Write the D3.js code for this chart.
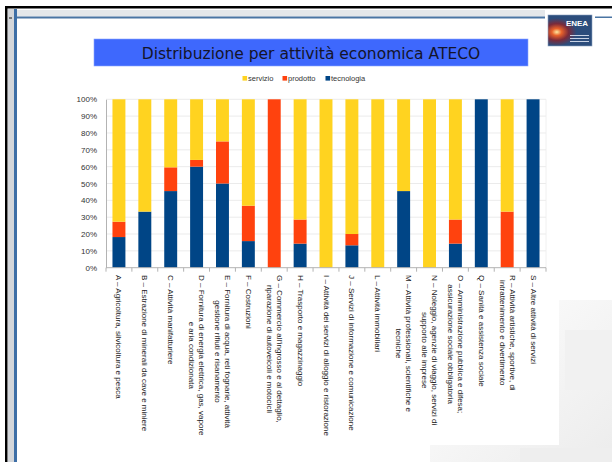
<!doctype html>
<html lang="it">
<head>
<meta charset="utf-8">
<title>Distribuzione per attività economica ATECO</title>
<script src="https://d3js.org/d3.v7.min.js"></script>
<style>
  body { margin: 0; background: #fff; }
  svg { display: block; }
  .tick-lbl { font-family: "Liberation Sans", Arial, sans-serif; font-size: 8px; fill: #333; }
  .cat-lbl { font-family: "Liberation Sans", Arial, sans-serif; font-size: 8px; fill: #222; }
  .leg-lbl { font-family: "Liberation Sans", Arial, sans-serif; font-size: 7.5px; fill: #333; }
</style>
</head>
<body>
<script>
// categories (ATECO sections) and their label lines
var categories = ["A","B","C","D","E","F","G","H","I","J","L","M","N","O","Q","R","S"];
var labels = [
  ["A – Agricoltura, silvicoltura e pesca"],
  ["B – Estrazione di minerali da cave e miniere"],
  ["C – Attività manifatturiere"],
  ["D – Fornitura di energia elettrica, gas, vapore", "e aria condizionata"],
  ["E – Fornitura di acqua, reti fognarie, attività", "gestione rifiuti e risanamento"],
  ["F – Costruzioni"],
  ["G – Commercio all'ingrosso e al dettaglio,", "riparazione di autoveicoli e motocicli"],
  ["H – Trasporto e magazzinaggio"],
  ["I – Attività dei servizi di alloggio e ristorazione"],
  ["J – Servizi di informazione e comunicazione"],
  ["L – Attività immobiliari"],
  ["M – Attività professionali, scientifiche e", "tecniche"],
  ["N – Noleggio, agenzie di viaggio, servizi di", "supporto alle imprese"],
  ["O – Amministrazione pubblica e difesa;", "assicurazione sociale obbligatoria"],
  ["Q – Sanità e assistenza sociale"],
  ["R – Attività artistiche, sportive, di", "intrattenimento e divertimento"],
  ["S – Altre attività di servizi"]
];
// percentages
var tecnologia = [18.2, 33.3, 45.5, 60, 50, 15.8, 0, 14.3, 0, 13.3, 0, 45.5, 0, 14.3, 100, 0, 100];
var prodotto   = [9.1, 0, 14.1, 4, 25, 21, 100, 14.3, 0, 6.7, 0, 0, 0, 14.3, 0, 33.3, 0];
var servizio   = [72.7, 66.7, 40.4, 36, 25, 63.2, 0, 71.4, 100, 80, 100, 54.5, 100, 71.4, 0, 66.7, 0];
var seriesNames = ["servizio", "prodotto", "tecnologia"];
var seriesColors = {servizio: "#ffd320", prodotto: "#ff420e", tecnologia: "#004586"};
var yTicks = [0, 10, 20, 30, 40, 50, 60, 70, 80, 90, 100];

var W = 612, H = 462;
var svg = d3.select("body").append("svg").attr("width", W).attr("height", H);

// slide background decoration (lower right)
var defs = svg.append("defs");
var gd = defs.append("linearGradient").attr("id", "deco").attr("x1", 0).attr("y1", 0).attr("x2", 1).attr("y2", 1);
gd.append("stop").attr("offset", "0%").attr("stop-color", "#ffffff");
gd.append("stop").attr("offset", "100%").attr("stop-color", "#ececec");
svg.append("rect").attr("x", 430).attr("y", 300).attr("width", 182).attr("height", 162).attr("fill", "url(#deco)");
svg.append("rect").attr("x", 565).attr("y", 330).attr("width", 47).attr("height", 60).attr("fill", "#f1f1f1");
svg.append("rect").attr("x", 520).attr("y", 448).attr("width", 92).attr("height", 14).attr("fill", "#eeeeee");
// white panel of the chart
svg.append("rect").attr("x", 17).attr("y", 19).attr("width", 542).attr("height", 426).attr("fill", "#fff");

// slide frame
svg.append("rect").attr("x", 5).attr("y", 6).attr("width", 607).attr("height", 2.5).attr("fill", "#000");
svg.append("rect").attr("x", 5).attr("y", 6).attr("width", 2.5).attr("height", 456).attr("fill", "#000");
svg.append("rect").attr("x", 8).attr("y", 9).attr("width", 6).attr("height", 453).attr("fill", "#d3d6da");
svg.append("rect").attr("x", 14).attr("y", 9).attr("width", 3).attr("height", 453).attr("fill", "#3d6ea6");
svg.append("rect").attr("x", 17).attr("y", 10).attr("width", 528).attr("height", 6.5).attr("fill", "#e4e7ea");
svg.append("rect").attr("x", 17).attr("y", 16.5).attr("width", 528).attr("height", 2).attr("fill", "#4a75a3");
svg.append("rect").attr("x", 595).attr("y", 16.5).attr("width", 17).attr("height", 1.5).attr("fill", "#4a75a3");
svg.append("rect").attr("x", 9).attr("y", 17).attr("width", 3).attr("height", 2).attr("fill", "#777");

// ENEA logo
var gl = defs.append("radialGradient").attr("id", "glow").attr("cx", "20%").attr("cy", "55%").attr("r", "45%");
gl.append("stop").attr("offset", "0%").attr("stop-color", "#ffe9a0");
gl.append("stop").attr("offset", "25%").attr("stop-color", "#e8612a");
gl.append("stop").attr("offset", "60%").attr("stop-color", "#7a2a3a");
gl.append("stop").attr("offset", "100%").attr("stop-color", "#2c4d7c");
var logo = svg.append("g").attr("transform", "translate(548,15)");
logo.append("rect").attr("width", 44).attr("height", 31).attr("fill", "url(#glow)").attr("stroke", "#8aa0c0").attr("stroke-width", 0.6);
logo.append("text").attr("x", 29).attr("y", 11).attr("text-anchor", "middle")
  .style("font-family", "Liberation Sans, Arial, sans-serif").style("font-weight", "bold")
  .style("font-size", "8px").style("fill", "#fff").text("ENEA");
[20, 23, 26].forEach(function(y) {
  logo.append("rect").attr("x", 22).attr("y", y).attr("width", 19).attr("height", 1).attr("fill", "#c8d2e4");
});

// title box
svg.append("rect").attr("x", 94).attr("y", 39).attr("width", 434).attr("height", 27)
  .attr("fill", "#3e68fd").attr("stroke", "#8aa4ff").attr("stroke-width", 0.6);
svg.append("text").attr("x", 311).attr("y", 58.5).attr("text-anchor", "middle")
  .style("font-family", "DejaVu Sans, sans-serif").style("font-size", "15.5px").style("fill", "#14142a")
  .text("Distribuzione per attività economica ATECO");

// legend
var legX = [242.5, 282.5, 325.5];
var leg = svg.append("g");
seriesNames.forEach(function(s, i) {
  leg.append("rect").attr("x", legX[i]).attr("y", 76).attr("width", 4.6).attr("height", 4.6).attr("fill", seriesColors[s]);
  leg.append("text").attr("class", "leg-lbl").attr("x", legX[i] + 5.5).attr("y", 81).text(s);
});

// plot
var x0 = 106, x1 = 546, yTop = 99.3, yBot = 267.7;
var x = d3.scaleBand().domain(categories).range([x0, x1]).paddingInner(0.5).paddingOuter(0.25);
var y = d3.scaleLinear().domain([0, 100]).range([yBot, yTop]);

var grid = svg.append("g");
grid.selectAll("line").data(yTicks.filter(function(t) { return t > 0; })).enter().append("line")
  .attr("x1", x0).attr("x2", x1).attr("y1", function(d) { return y(d); }).attr("y2", function(d) { return y(d); })
  .attr("stroke", "#e6e6e6").attr("stroke-width", 0.8);
svg.append("line").attr("x1", x1).attr("x2", x1).attr("y1", yTop).attr("y2", yBot).attr("stroke", "#ececec").attr("stroke-width", 0.8);

// stacked data: tecnologia bottom, prodotto middle, servizio top
var rows = categories.map(function(c, i) {
  return {cat: c, tecnologia: tecnologia[i], prodotto: prodotto[i], servizio: servizio[i]};
});
var stack = d3.stack().keys(["tecnologia", "prodotto", "servizio"]);
var layers = stack(rows);
svg.append("g").selectAll("g").data(layers).enter().append("g")
  .attr("fill", function(d) { return seriesColors[d.key]; })
  .selectAll("rect").data(function(d) { return d; }).enter().append("rect")
  .attr("x", function(d) { return x(d.data.cat); })
  .attr("width", x.bandwidth())
  .attr("y", function(d) { return y(d[1]); })
  .attr("height", function(d) { return Math.max(0, y(d[0]) - y(d[1])); });

// y axis
var yAxis = svg.append("g").attr("transform", "translate(" + x0 + ",0)")
  .call(d3.axisLeft(y).tickValues(yTicks).tickSize(0).tickPadding(9).tickFormat(function(d) { return d + "%"; }));
yAxis.select(".domain").attr("stroke", "#b3b3b3");
yAxis.selectAll("text").attr("class", "tick-lbl").attr("font-size", null).attr("font-family", null).attr("fill", null);

// x axis line and separators
svg.append("line").attr("x1", x0).attr("x2", x1).attr("y1", yBot).attr("y2", yBot).attr("stroke", "#b3b3b3");
svg.append("g").selectAll("line").data(d3.range(categories.length + 1)).enter().append("line")
  .attr("x1", function(i) { return x0 + i * (x1 - x0) / categories.length; })
  .attr("x2", function(i) { return x0 + i * (x1 - x0) / categories.length; })
  .attr("y1", yBot).attr("y2", yBot + 4).attr("stroke", "#b3b3b3");

// rotated category labels
var lineGap = 10;
var lg = svg.append("g");
categories.forEach(function(c, i) {
  var cx = x(c) + x.bandwidth() / 2;
  var g = lg.append("g").attr("transform", "translate(" + cx + ",275) rotate(90)");
  var lines = labels[i];
  var n = lines.length;
  var texts = lines.map(function(s, k) {
    return g.append("text").attr("class", "cat-lbl")
      .attr("dominant-baseline", "central")
      .attr("y", (k - (n - 1) / 2) * lineGap).text(s);
  });
  var widths = texts.map(function(t) { return t.node().getComputedTextLength(); });
  var maxW = d3.max(widths);
  texts.forEach(function(t, k) { t.attr("x", (maxW - widths[k]) / 2); });
});
</script>
</body>
</html>
